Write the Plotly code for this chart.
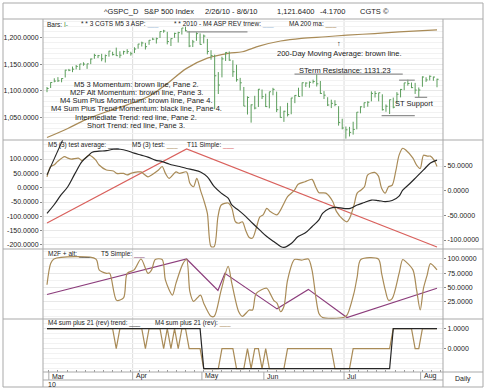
import pandas as pd
import plotly.graph_objects as go

W, H = 490, 390
FONT = "Liberation Sans, Arial, Helvetica, sans-serif"

# ---------------- data ----------------
# sessions present in the chart (exchange holidays and a few days absent from the feed)
skip = ["2010-04-02", "2010-05-31", "2010-07-05",
        "2010-04-08", "2010-04-21", "2010-05-11", "2010-05-17", "2010-05-24"]
dates = [d.strftime("%Y-%m-%d") for d in pd.bdate_range("2010-02-26", "2010-08-06")
         if d.strftime("%Y-%m-%d") not in skip]
bar_idx = list(range(len(dates)))

high = [1107.2, 1116.0, 1123.5, 1125.6, 1123.7, 1139.4, 1141.0, 1145.4, 1148.3, 1150.2,
        1153.4, 1150.5, 1160.3, 1169.2, 1167.1, 1169.2, 1167.8, 1174.7, 1173.0, 1180.7,
        1173.9, 1174.9, 1177.8, 1173.0, 1181.4, 1187.7, 1191.8, 1189.6, 1194.7,
        1199.2, 1199.3, 1210.7, 1213.9, 1210.2, 1197.9, 1208.5, 1210.3, 1217.3,
        1219.8, 1211.4, 1195.1, 1209.4, 1207.3, 1205.1, 1197.0, 1175.9, 1167.6, 1135.1,
        1163.8, 1172.0, 1173.6, 1157.2, 1148.7, 1124.3, 1107.3, 1089.9,
        1074.8, 1090.8, 1103.5, 1102.6, 1094.8, 1098.4, 1105.7, 1098.6, 1071.4,
        1063.0, 1077.7, 1087.0, 1092.1, 1105.9, 1115.6, 1116.0, 1117.7, 1121.0, 1131.2,
        1118.5, 1099.6, 1088.2, 1083.6, 1082.6, 1071.5, 1048.1, 1033.6, 1032.9, 1042.5,
        1060.4, 1071.3, 1078.2, 1080.8, 1099.1, 1099.6, 1096.5, 1093.7, 1074.7, 1083.9,
        1087.5, 1097.7, 1103.7, 1115.0, 1120.9, 1115.6, 1115.0, 1106.4, 1127.2, 1125.4,
        1128.8, 1126.6, 1122.8]
low = [1097.6, 1105.4, 1116.0, 1116.6, 1116.0, 1125.0, 1136.8, 1134.9, 1140.1, 1138.9,
       1146.9, 1141.1, 1150.0, 1159.9, 1161.2, 1155.3, 1152.9, 1163.8, 1166.0, 1165.1,
       1161.5, 1167.7, 1168.9, 1165.7, 1170.7, 1178.7, 1182.8, 1177.2, 1186.0,
       1194.7, 1188.4, 1198.7, 1208.5, 1186.8, 1183.7, 1199.0, 1190.2, 1205.1,
       1211.1, 1181.6, 1181.8, 1193.4, 1186.3, 1188.6, 1168.1, 1158.2, 1065.8, 1094.2,
       1125.2, 1155.8, 1156.1, 1126.1, 1117.2, 1100.7, 1071.6, 1055.9,
       1040.8, 1065.6, 1069.9, 1084.8, 1069.9, 1067.5, 1091.8, 1060.5, 1050.0,
       1042.2, 1052.3, 1056.4, 1077.1, 1089.0, 1089.6, 1107.4, 1105.9, 1113.9, 1108.2,
       1094.2, 1084.8, 1071.8, 1067.9, 1071.5, 1035.2, 1028.3, 1010.9, 1015.0, 1018.4,
       1028.3, 1058.2, 1068.0, 1070.5, 1080.5, 1087.7, 1080.5, 1063.3, 1061.1, 1056.9,
       1067.5, 1076.6, 1087.9, 1101.3, 1109.8, 1105.2, 1094.3, 1088.0, 1107.7, 1116.8,
       1119.5, 1118.8, 1106.8]
close = [1104.5, 1115.7, 1118.3, 1118.8, 1123.0, 1138.7, 1138.5, 1140.5, 1145.6, 1150.2,
         1150.0, 1150.5, 1159.5, 1166.2, 1165.8, 1159.9, 1165.8, 1174.2, 1167.7, 1165.7,
         1166.6, 1173.2, 1173.3, 1169.4, 1178.1, 1187.4, 1189.4, 1182.5, 1194.4,
         1196.5, 1197.3, 1210.7, 1211.7, 1192.1, 1197.5, 1207.2, 1208.7, 1217.3,
         1212.1, 1183.7, 1191.4, 1206.8, 1186.7, 1202.3, 1173.6, 1165.9, 1128.2, 1110.9,
         1159.7, 1171.7, 1157.4, 1135.7, 1120.8, 1115.1, 1071.6, 1087.7,
         1074.0, 1068.0, 1103.1, 1089.4, 1070.7, 1098.4, 1102.8, 1064.9, 1050.5,
         1062.0, 1055.7, 1086.8, 1091.6, 1089.6, 1115.2, 1114.6, 1116.0, 1117.5, 1113.2,
         1095.3, 1092.0, 1073.7, 1076.8, 1074.6, 1041.2, 1030.7, 1027.4, 1022.6, 1028.1,
         1060.3, 1070.3, 1078.0, 1078.8, 1095.3, 1095.2, 1096.5, 1064.9, 1071.3, 1083.5,
         1069.6, 1093.7, 1102.7, 1115.0, 1113.8, 1106.1, 1101.5, 1101.6, 1125.9, 1120.5,
         1127.2, 1125.8, 1121.6]

ma200_pos = [0, 5.7, 10.5, 16.3, 22.0, 27.7, 32.5, 38.3, 44.0, 49.7, 53.6, 58.4, 64.1, 69.8,
             76.5, 82.3, 89.9, 96.6, 107]
ma200_val = [1013, 1030, 1046, 1061, 1074, 1089, 1111, 1142, 1161, 1170, 1173, 1184, 1193,
             1198, 1201, 1204, 1207, 1210, 1214]

# pane 2
t11_pos = [0, 38.3, 107]
t11_val = [-123, 135, -207]
m5_pos = [0, 1.0, 1.9, 2.9, 4.8, 5.7, 6.7, 8.6, 9.6, 10.5, 11.5, 12.4, 13.4, 14.3, 16.3, 18.2,
          19.1, 21.0, 22.0, 23.0, 24.9, 25.8, 27.7, 28.7, 30.6, 31.6, 32.5, 33.5, 35.4, 36.4,
          38.3, 39.2, 40.2, 41.1, 42.1, 43.0, 44.0, 45.0, 45.9, 46.9, 47.8, 49.7, 50.7, 51.7,
          52.6, 53.6, 54.5, 55.5, 56.4, 57.4, 58.4, 59.3, 60.3, 61.2, 63.1, 64.1, 65.0, 66.0,
          67.9, 68.9, 70.8, 72.7, 73.7, 74.6, 76.5, 78.4, 79.4, 81.3, 82.3, 83.2, 84.2, 85.1,
          86.1, 87.1, 88.0, 89.9, 90.9, 91.8, 92.8, 93.7, 94.7, 95.7, 96.6, 97.6, 98.5, 100.4,
          101.4, 102.4, 103.3, 104.3, 105.2, 106.2, 107]
m5_val = [28, 49, 52, 59, 69, 66, 64, 66, 61, 66, 72, 69, 62, 52, 42, 40, 35, 35, 32, 35, 38,
          38, 28, 32, 42, 49, 35, 25, 38, 35, 38, 15, 8, 25, 1, -19, -46, -113, -113, -53, -29,
          -25, -35, -63, -66, -63, -80, -95, -96, -76, -53, -49, -36, -42, -49, -39, -26, -12,
          1, 13, 18, 23, 8, -4, -5, -22, -42, -59, -63, -53, -30, -5, 1, 8, 32, 37, 30, 5, -5,
          8, 11, 40, 72, 86, 82, 66, 52, 45, 72, 70, 70, 62, 49]
m5avg_pos = [0, 1.9, 3.8, 5.7, 7.7, 9.6, 11.5, 12.4, 14.3, 16.3, 18.2, 20.1, 22.0, 23.9, 25.8,
             27.7, 29.7, 31.6, 33.5, 34.4, 36.4, 38.3, 40.2, 42.1, 44.0, 45.9, 47.8, 49.7, 50.7,
             52.6, 54.5, 56.4, 58.4, 60.3, 62.2, 64.1, 65.0, 67.0, 68.9, 70.8, 72.7, 74.6, 75.6,
             77.5, 79.4, 81.3, 83.2, 85.1, 87.1, 89.0, 90.9, 92.8, 94.7, 96.6, 97.6, 99.5, 101.4,
             103.3, 105.2, 107]
m5avg_val = [-46, -29, -9, 8, 35, 59, 72, 78, 80, 81, 84, 84, 81, 76, 72, 68, 62, 59, 54, 52,
             49, 45, 42, 38, 28, 8, -5, -15, -29, -40, -52, -66, -80, -93, -103, -113, -115,
             -107, -93, -86, -73, -59, -46, -36, -34, -36, -36, -29, -24, -19, -20, -22, -20,
             -11, 1, 14, 28, 42, 56, 62]
m5avg_lead_pos = [0, 4.8]
m5avg_lead_val = [32, 111]

# pane 3
t5_pos = [0, 38.3, 46.9, 48.8, 63.1, 71.7, 82.3, 107]
t5_val = [38, 100, 45, 75, 13, 47, -2, 49]
m2f_pos = [0, 1.0, 1.9, 13.4, 14.3, 16.3, 17.2, 19.1, 21.0, 22.0, 23.9, 25.8, 27.7, 28.7, 29.7,
           31.6, 32.5, 34.4, 35.4, 37.3, 38.3, 39.2, 40.2, 42.1, 43.0, 45.0, 45.9, 47.8, 49.7,
           50.7, 52.6, 53.6, 55.5, 56.4, 57.4, 60.3, 61.2, 62.2, 63.1, 64.1, 65.0, 66.0, 67.9,
           69.8, 71.7, 72.7, 74.6, 75.6, 81.3, 82.3, 84.2, 85.1, 86.1, 90.9, 91.8, 92.8, 93.7,
           94.7, 96.6, 97.6, 98.5, 100.4, 101.4, 102.4, 103.3, 104.3, 105.2, 107]
m2f_val = [55, 92, 100, 100, 81, 75, 75, 28, 32, 75, 81, 100, 75, 81, 99, 99, 63, 37, 58, 92,
           99, 43, 26, 37, 23, 0, 0, 46, 87, 58, 8, 0, 11, 11, 40, 49, 40, 28, 23, 8, 17, 63,
           99, 98, 100, 81, 5, -2, -2, 2, 40, 69, 99, 100, 75, 46, 28, 31, 75, 99, 95, 81, 46,
           11, 49, 72, 92, 81]

# pane 4 (one value per bar)
m4_rev = [1, 1, 1, 1, 1, 1, 1, 1, 1, 1, 1, 1, 1, 1, 1, 1, 1, 1, 1, 0,
          1, 1, 1, 1, 1, 1, 1, 0, 1, 1, 1, 1, 0, 1, 0, 1, 0, 1, 1, 0,
          0, 0, 0, -1, -1, -1, -1, -1, 0, 0, 0, 0, -1, -1, -1, 0, -1, 0, 0, -1,
          0, -1, -1, -1, -1, -1, 0, 0, 0, 0, 0, 0, 0, 0, 0, 0, 0, 0, 0, -1,
          -1, -1, -1, -1, 0, 0, 0, 0, 0, 0, 0, 0, 0, 0, 0, 1, 1, 1, 1, 1,
          1, 0, 0, 1, 1, 1, 1, 1]
m4_trend = [1, 1, 1, 1, 1, 1, 1, 1, 1, 1, 1, 1, 1, 1, 1, 1, 1, 1, 1, 1,
            1, 1, 1, 1, 1, 1, 1, 1, 1, 1, 1, 1, 1, 1, 1, 1, 1, 1, 1, 1,
            1, 1, 1, -1, -1, -1, -1, -1, -1, -1, -1, -1, -1, -1, -1, -1, -1, -1, -1, -1,
            -1, -1, -1, -1, -1, -1, -1, -1, -1, -1, -1, -1, -1, -1, -1, -1, -1, -1, -1, -1,
            -1, -1, -1, -1, -1, -1, -1, -1, -1, -1, -1, -1, -1, -1, -1, 1, 1, 1, 1, 1,
            1, 1, 1, 1, 1, 1, 1, 1]

# horizontal levels drawn in pane 1 (level, from bar, to bar)
lvl_val = [1210.0, 1131.23, 1054.0, 1120.0, 1088.0]
lvl_from = [38.3, 67.9, 91.8, 96.6, 100.9]
lvl_to = [55.0, 97.6, 100.9, 100.9, 104.3]

p1_ticks = [1050, 1100, 1150, 1200]
p2l_ticks = [100, 50, 0, -50, -100, -150, -200]
p2r_ticks = [50, 0, -50, -100]
p3_ticks = [100, 75, 50, 25]
p4_ticks = [1, 0]
months = ["Mar", "Apr", "May", "Jun", "Jul", "Aug"]
month_pos = [0.5, 23.5, 42.5, 59.5, 81.5, 102.5]
quarter_pos = [23.5, 81.5]

BROWN = "#a98b57"
RED = "#d9605c"
PURPLE = "#8c3d7c"
BLACK = "#262626"
GREEN = "#5c9e5c"
FRAME = "#a9a9a9"
GRID = "#e8e8e8"
MINOR = "#f2f2f2"
TXT = "#222222"

def fx(px):
    return px / W

def fy(py):
    return 1 - py / H

def fmt(v):
    return f"{v:,.4f}"

step = (437 - 47) / (len(dates) - 1)
xr = [-(47 - 43) / step, (len(dates) - 1) + (443 - 437) / step]
xdom = [fx(43), fx(443)]
d1 = [fy(140), fy(19)]
d2 = [fy(249), fy(140)]
d3 = [fy(319), fy(249)]
d4 = [fy(372), fy(319)]

fig = go.Figure()

fig.add_trace(go.Scatter(x=ma200_pos, y=ma200_val, mode="lines", line=dict(color=BROWN, width=1.2, shape="spline"),
                         xaxis="x", yaxis="y", hoverinfo="skip"))
bx, by = [], []
for i, h, l, c in zip(bar_idx, high, low, close):
    bx += [i, i, None, i, i + 0.45, None]
    by += [l, h, None, c, c, None]
fig.add_trace(go.Scatter(x=bx, y=by, mode="lines", line=dict(color=GREEN, width=1), xaxis="x", yaxis="y",
                         hoverinfo="skip"))

fig.add_trace(go.Scatter(x=t11_pos, y=t11_val, mode="lines", line=dict(color=RED, width=1.2), xaxis="x2", yaxis="y3"))
fig.add_trace(go.Scatter(x=m5_pos, y=m5_val, mode="lines", line=dict(color=BROWN, width=1.2, shape="spline", smoothing=0.8),
                         xaxis="x2", yaxis="y4"))
fig.add_trace(go.Scatter(x=m5avg_pos, y=m5avg_val, mode="lines", line=dict(color=BLACK, width=1.2, shape="spline"),
                         xaxis="x2", yaxis="y4"))
fig.add_trace(go.Scatter(x=m5avg_lead_pos, y=m5avg_lead_val, mode="lines", line=dict(color=BLACK, width=1.1),
                         xaxis="x2", yaxis="y4"))

fig.add_trace(go.Scatter(x=t5_pos, y=t5_val, mode="lines", line=dict(color=PURPLE, width=1.2), xaxis="x3", yaxis="y5"))
fig.add_trace(go.Scatter(x=m2f_pos, y=m2f_val, mode="lines", line=dict(color=BROWN, width=1.2, shape="spline", smoothing=0.8),
                         xaxis="x3", yaxis="y5"))

fig.add_trace(go.Scatter(x=bar_idx, y=m4_rev, mode="lines", line=dict(color=BROWN, width=1.2), xaxis="x4", yaxis="y7"))
fig.add_trace(go.Scatter(x=bar_idx, y=m4_trend, mode="lines", line=dict(color=BLACK, width=1.2), xaxis="x4", yaxis="y7"))

tickfont = dict(family=FONT, size=7, color=TXT)

def xax(anchor, ticks=False):
    d = dict(domain=xdom, range=xr, anchor=anchor, showticklabels=False, showgrid=False, zeroline=False,
             ticks="", showline=False, fixedrange=True)
    if ticks:
        d.update(ticks="inside", ticklen=2, tickcolor="#9a9a9a", tickmode="linear", tick0=0.5, dtick=2.5)
    return d

def yax(rng, dom, vals, side, labels=True, overlay=None, anchor=None, grid=True, minor=None):
    d = dict(range=rng, side=side, zeroline=False, showline=False, fixedrange=True,
             tickfont=tickfont, ticks="outside", ticklen=2, tickcolor="#888")
    if overlay:
        d["overlaying"] = overlay
    else:
        d["domain"] = dom
    if anchor:
        d["anchor"] = anchor
    d["tickvals"] = vals
    d["ticktext"] = [fmt(v) for v in vals] if labels else ["" for v in vals]
    d["showgrid"] = grid
    d["gridcolor"] = GRID
    d["gridwidth"] = 1
    if minor:
        d["minor"] = dict(dtick=minor, showgrid=True, gridcolor=MINOR, gridwidth=1, ticks="")
    return d

r1 = [1008.4, 1234.1]
r2l = [-214.0, 166.3]
r2r = [-118.2, 102.7]
r3 = [-4.65, 117.4]
r4 = [-1.165, 1.485]

fig.update_layout(
    width=W, height=H, margin=dict(l=0, r=0, t=0, b=0),
    paper_bgcolor="white", plot_bgcolor="white", showlegend=False,
    font=dict(family=FONT, size=7, color=TXT),
    xaxis=xax("y"), xaxis2=xax("y3"), xaxis3=xax("y5"), xaxis4=xax("y7", ticks=True),
    yaxis=yax(r1, d1, p1_ticks, "left", anchor="x", minor=10),
    yaxis2=yax(r1, d1, p1_ticks, "right", overlay="y", anchor="x", grid=False),
    yaxis3=yax(r2l, d2, p2l_ticks, "left", anchor="x2", minor=25),
    yaxis4=yax(r2r, d2, p2r_ticks, "right", overlay="y3", anchor="x2", grid=False),
    yaxis5=yax(r3, d3, p3_ticks, "right", anchor="x3", minor=12.5),
    yaxis7=yax(r4, d4, p4_ticks, "right", anchor="x4", minor=0.25),
)

shapes = []
def pline(x0, y0, x1, y1, color=FRAME, width=1):
    shapes.append(dict(type="line", xref="paper", yref="paper", x0=fx(x0), y0=fy(y0), x1=fx(x1), y1=fy(y1),
                       line=dict(color=color, width=width), layer="above"))

shapes.append(dict(type="rect", xref="paper", yref="paper", x0=fx(3), y0=fy(387), x1=fx(483), y1=fy(3),
                   line=dict(color=FRAME, width=1), layer="above"))
pline(3, 19, 483, 19)
pline(43, 19, 43, 387)
pline(443, 19, 443, 387)
for yy in (140, 249, 319):
    pline(3, yy, 483, yy)
pline(43, 372, 483, 372)
pline(43, 380, 443, 380)

for q in quarter_pos:
    shapes.append(dict(type="line", xref="x", yref="paper", x0=q, x1=q, y0=fy(372), y1=fy(19),
                       line=dict(color="#dcdcdc", width=1), layer="below"))
for m in month_pos:
    shapes.append(dict(type="line", xref="x", yref="paper", x0=m, x1=m, y0=fy(380), y1=fy(372),
                       line=dict(color=FRAME, width=1), layer="above"))
for v, a, b in zip(lvl_val, lvl_from, lvl_to):
    shapes.append(dict(type="line", xref="x", yref="y", x0=a, x1=b, y0=v, y1=v,
                       line=dict(color="#8f8f8f", width=1.2), layer="above"))

fig.update_layout(shapes=shapes)

ann = []
def text(x, y, s, size=7, anchor="left", color=TXT):
    ann.append(dict(xref="paper", yref="paper", x=fx(x), y=fy(y), text=s, showarrow=False,
                    xanchor=anchor, yanchor="middle", font=dict(family=FONT, size=size, color=color)))

def u(c):
    return f"<span style='color:{c}'>___</span>"

text(102, 11, "^GSPC_D", 7.5)
text(142, 11, "S&amp;P 500 Index", 7.5)
text(203, 11, "2/26/10 - 8/6/10", 7.5)
text(275, 11, "1,121.6400", 7.5)
text(318, 11, "-4.1700", 7.5)
text(358, 11, "CGTS ©", 7.5)

text(45, 24, "Bars: <span style='color:#3f8f3f'>I-</span>", 6.5)
text(79, 24, "* * 3 CGTS M5 3 ASP: " + u("#9ab8d6"), 6.5)
text(172, 24, "* * 2010 - M4 ASP REV trnew: " + u("#9ab8d6"), 6.5)
text(287, 24, "MA 200 ma: " + u(BROWN), 6.5)
text(46, 145, "M5 (3) test average: " + u(BLACK), 6.5)
text(130, 145, "M5 (3) test: " + u(BROWN), 6.5)
text(185, 145, "T11 Simple: " + u(RED), 6.5)
text(46, 254, "M2F + alt: " + u(BLACK), 6.5)
text(99, 254, "T5 Simple: " + u(PURPLE), 6.5)
text(46, 323, "M4 sum plus 21 (rev) trend: " + u(BLACK), 6.5)
text(153, 323, "M4 sum plus 21 (rev): " + u(BROWN), 6.5)

notes = ["M5 3 Momentum: brown line, Pane 2.",
         "M2F Alt Momentum: brown line, Pane 3.",
         "M4 Sum Plus Momentum: brown line, Pane 4.",
         "M4 Sum Plus Trend Momentum: black line, Pane 4.",
         "Intermediate Trend: red line, Pane 2.",
         "Short Trend: red line, Pane 3."]
for k, s in enumerate(notes):
    text(136, 84 + k * 8.3, s, 7.5, anchor="center")
text(339, 43, "↑", 7.5, anchor="center")
text(339, 54, "200-Day Moving Average: brown line.", 7.5, anchor="center")
text(345, 70, "STerm Resistance: 1131.23", 7.5, anchor="center")
text(414, 104, "ST Support", 7.5, anchor="center")

for m, lab in zip(month_pos, months):
    ann.append(dict(xref="x4", yref="paper", x=m, y=fy(376), text=lab, showarrow=False, xanchor="left",
                    yanchor="middle", xshift=1, font=dict(family=FONT, size=7, color=TXT)))
text(46, 384, "10", 7)
text(463, 379, "Daily", 7, anchor="center")

fig.update_layout(annotations=ann)
fig.write_html("out.html", config={"displayModeBar": False},
               post_script="document.body.style.margin='0px';document.body.style.overflow='hidden';")
